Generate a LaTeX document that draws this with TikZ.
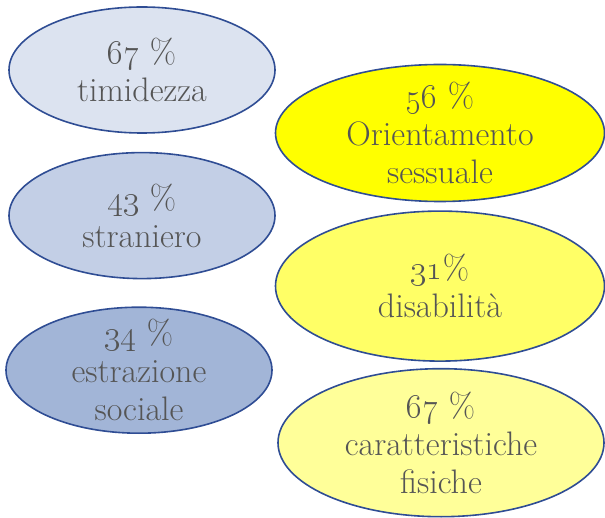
\documentclass[tikz,border=0pt]{standalone}
\usepackage{fix-cm}
\usepackage{tikz}
\usetikzlibrary{
    positioning,
    shapes.geometric,
}
\definecolor{BlobLine}{HTML}{2F4D94}
\definecolor{BlobText}{HTML}{555555}
\definecolor{BlueA}{HTML}{DCE3F0}
\definecolor{BlueB}{HTML}{C3CFE6}
\definecolor{BlueC}{HTML}{A2B5D7}
\definecolor{YellowA}{HTML}{FFFF00}
\definecolor{YellowB}{HTML}{FFFF66}
\definecolor{YellowC}{HTML}{FFFF99}
\tikzstyle{blob}=[draw=BlobLine,ellipse,line width=1.6pt,inner sep=0pt]
\tikzstyle{blobtext}=[text=BlobText,align=center,inner sep=0pt,font=\fontsize{34}{38}\selectfont]
\tikzstyle{leftblob}=[blob,minimum width=266pt,minimum height=126pt]
\tikzstyle{rightblob}=[blob,minimum width=329pt]

\begin{document}
\begin{tikzpicture}[x=1pt,y=-1pt]
    \useasboundingbox (0,0) rectangle (605,518);
    % left column
    \node[leftblob,fill=BlueA,label={[blobtext]center:\oldstylenums{67} \%\\timidezza}] (timidezza) at (142,70) {};
    \node[leftblob,fill=BlueB,below=18pt of timidezza,label={[blobtext]center:\oldstylenums{43} \%\\straniero}] (straniero) {};
    \node[leftblob,fill=BlueC,below=27pt of straniero,xshift=-3pt,label={[blobtext]center:\oldstylenums{34} \%\\estrazione\\sociale}] (estrazione) {};
    % right column
    \node[rightblob,fill=YellowA,minimum height=137pt,label={[blobtext]center:\oldstylenums{56} \%\\Orientamento\\sessuale}] (orientamento) at (440,133) {};
    \node[rightblob,fill=YellowB,minimum height=150pt,below=8pt of orientamento,label={[blobtext]center:\oldstylenums{31}\%\\disabilit\`a}] (disabilita) {};
    \node[rightblob,fill=YellowC,minimum height=148pt,below=6pt of disabilita,xshift=1pt,minimum width=326pt,label={[blobtext]center:\oldstylenums{67} \%\\caratteristiche\\fisiche}] (fisiche) {};
\end{tikzpicture}
\end{document}
